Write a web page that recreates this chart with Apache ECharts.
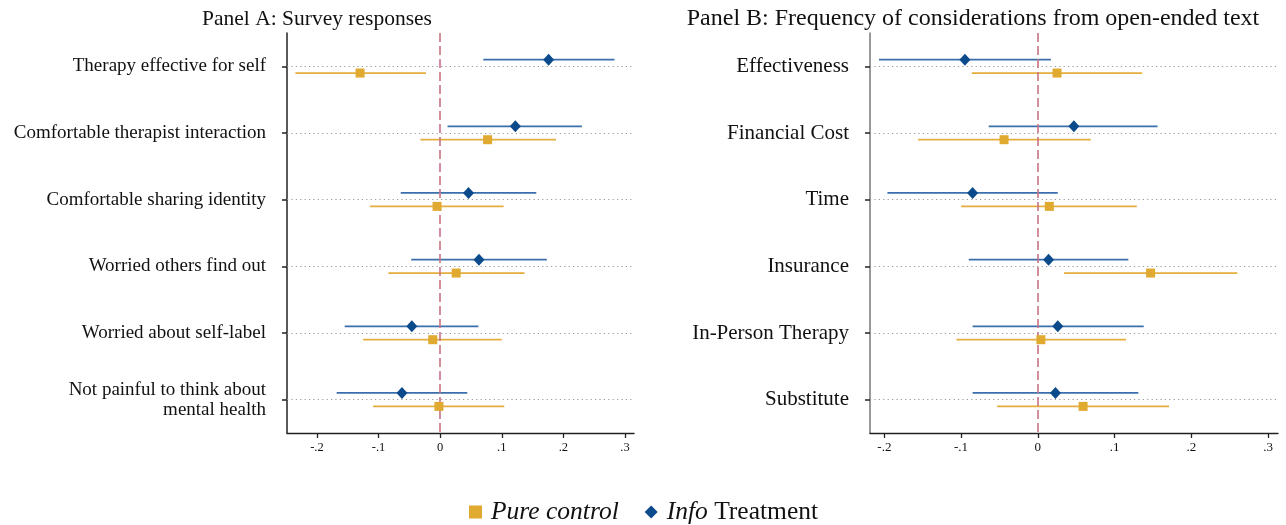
<!DOCTYPE html>
<html>
<head>
<meta charset="utf-8">
<script src="https://cdn.jsdelivr.net/npm/echarts@6/dist/echarts.min.js"></script>
<style>html,body{margin:0;padding:0;background:#fff}#c{width:1286px;height:525px}</style>
</head>
<body>
<div id="c"></div>
<script>
const categoriesA = ['Therapy effective for self','Comfortable therapist interaction','Comfortable sharing identity','Worried others find out','Worried about self-label','Not painful to think about\nmental health'];
const categoriesB = ['Effectiveness','Financial Cost','Time','Insurance','In-Person Therapy','Substitute'];
const xTickValues = [-0.2,-0.1,0,0.1,0.2,0.3];
const xTickLabels = ['-.2','-.1','0','.1','.2','.3'];

const aInfoEst = [0.176,0.122,0.046,0.063,-0.046,-0.062];
const aInfoLo  = [0.070,0.012,-0.064,-0.047,-0.155,-0.168];
const aInfoHi  = [0.283,0.230,0.156,0.173,0.062,0.044];
const aCtrlEst = [-0.130,0.077,-0.005,0.026,-0.012,-0.002];
const aCtrlLo  = [-0.235,-0.032,-0.114,-0.084,-0.125,-0.109];
const aCtrlHi  = [-0.023,0.188,0.103,0.137,0.100,0.104];

const bInfoEst = [-0.095,0.047,-0.085,0.014,0.026,0.023];
const bInfoLo  = [-0.207,-0.064,-0.196,-0.090,-0.085,-0.085];
const bInfoHi  = [0.017,0.156,0.026,0.118,0.138,0.131];
const bCtrlEst = [0.025,-0.044,0.015,0.147,0.004,0.059];
const bCtrlLo  = [-0.086,-0.156,-0.100,0.034,-0.106,-0.053];
const bCtrlHi  = [0.136,0.069,0.129,0.260,0.115,0.171];

const SERIF = '"Liberation Serif","DejaVu Serif",serif';
const BLUE = '#0b4a8b', BLUE_LINE = '#3a6fab';
const GOLD = '#e0a92f', GOLD_LINE = '#e4ad3c';
const OFF = 6.7;
const rows = [1,2,3,4,5,6];

function ciSeries(name, idx, lo, hi, color, off) {
  return {
    name, type: 'custom', xAxisIndex: idx, yAxisIndex: idx, z: 3, silent: true,
    encode: {x: [1,2], y: 0},
    data: rows.map((r,i) => [r, lo[i], hi[i]]),
    renderItem: (params, api) => {
      const p1 = api.coord([api.value(1), api.value(0)]);
      const p2 = api.coord([api.value(2), api.value(0)]);
      return {type:'line', shape:{x1:p1[0], y1:p1[1]+off, x2:p2[0], y2:p2[1]+off}, style:{stroke:color, lineWidth:1.8}};
    }
  };
}
function ptSeries(name, idx, est, color, symbol, size, off) {
  return {
    name, type:'scatter', xAxisIndex: idx, yAxisIndex: idx, z: 5, silent: true,
    symbol, symbolSize: size, symbolOffset: [0, off],
    itemStyle: {color, opacity: 1},
    data: rows.map((r,i) => [est[i], r])
  };
}
function gridSeries(idx) {
  return {
    name: 'grid'+idx, type:'line', xAxisIndex: idx, yAxisIndex: idx, z: 1, data: [], silent: true,
    markLine: {
      silent: true, symbol: 'none', animation: false, label: {show: false},
      data: rows.map(r => ({yAxis: r, lineStyle: {color:'#9a9a9a', type:[1.2,3.2], width:1.2}}))
    }
  };
}
function zeroSeries(idx) {
  return {
    name: 'zero'+idx, type:'line', xAxisIndex: idx, yAxisIndex: idx, z: 4, data: [], silent: true,
    markLine: {
      silent: true, symbol: 'none', animation: false, label: {show: false},
      data: [{xAxis: 0, lineStyle: {color:'#c97383', type:[9,4], width:1.6}}]
    }
  };
}
function xAxis(idx, min, max, fs) {
  return {
    type:'value', gridIndex: idx, min, max,
    axisLine: {show:true, onZero:false, lineStyle:{color:'#222', width:1.3}},
    axisTick: {show:true, length:5, customValues: xTickValues, lineStyle:{color:'#222', width:1.3}},
    axisLabel: {customValues: xTickValues, formatter: v => xTickLabels[xTickValues.findIndex(t => Math.abs(t-v)<1e-9)], fontFamily: SERIF, fontSize: fs, color:'#111', margin: 8},
    splitLine: {show:false}
  };
}
function yAxis(idx, cats, lineColor, fs) {
  return {
    type:'value', gridIndex: idx, min: 0.5, max: 6.5, inverse: true,
    axisLine: {show:true, onZero:false, lineStyle:{color: lineColor, width:1.5}},
    axisTick: {show:true, length:5, customValues: rows, lineStyle:{color:'#222', width:1.5}},
    axisLabel: {customValues: rows, formatter: v => cats[Math.round(v)-1], fontFamily: SERIF, fontSize: fs, color:'#111', margin: 21, lineHeight: 20, align:'right'},
    splitLine: {show:false}
  };
}

const chart = echarts.init(document.getElementById('c'), null, {renderer:'canvas'});
chart.setOption({
  animation: false,
  backgroundColor: '#fff',
  title: [
    {text:'Panel A: Survey responses', left: 312, top: 3, textAlign:'center', textStyle:{fontFamily:SERIF, fontSize:21.5, fontWeight:'normal', color:'#111'}},
    {text:'Panel B: Frequency of considerations from open-ended text', left: 968, top: 2, textAlign:'center', textStyle:{fontFamily:SERIF, fontSize:24, fontWeight:'normal', color:'#111'}}
  ],
  grid: [
    {left: 287, top: 33, width: 347, height: 400, containLabel: false},
    {left: 870, top: 33, width: 408, height: 400, containLabel: false}
  ],
  xAxis: [xAxis(0, -0.2486, 0.3146, 12.5), xAxis(1, -0.2187, 0.313, 13)],
  yAxis: [yAxis(0, categoriesA, '#222', 19), yAxis(1, categoriesB, '#777', 21)],
  legend: {
    data: ['Pure control','Info Treatment'],
    left: 464, top: 494, itemWidth: 13, itemHeight: 13, itemGap: 26,
    formatter: n => n === 'Pure control' ? '{i|Pure control}' : '{i|Info} Treatment',
    textStyle: {fontFamily: SERIF, fontSize: 25.5, color:'#111', padding:[0,0,0,4],
      rich: {i: {fontFamily: SERIF, fontSize: 25.5, fontStyle:'italic', color:'#111'}}}
  },
  series: [
    gridSeries(0), gridSeries(1),
    ciSeries('ciA_info', 0, aInfoLo, aInfoHi, BLUE_LINE, -OFF),
    ciSeries('ciA_ctrl', 0, aCtrlLo, aCtrlHi, GOLD_LINE, OFF),
    ciSeries('ciB_info', 1, bInfoLo, bInfoHi, BLUE_LINE, -OFF),
    ciSeries('ciB_ctrl', 1, bCtrlLo, bCtrlHi, GOLD_LINE, OFF),
    zeroSeries(0), zeroSeries(1),
    ptSeries('Pure control', 0, aCtrlEst, GOLD, 'rect', [9,9], OFF),
    ptSeries('Info Treatment', 0, aInfoEst, BLUE, 'diamond', [11,12], -OFF),
    ptSeries('Pure control', 1, bCtrlEst, GOLD, 'rect', [9,9], OFF),
    ptSeries('Info Treatment', 1, bInfoEst, BLUE, 'diamond', [11,12], -OFF)
  ]
});
</script>
</body>
</html>
